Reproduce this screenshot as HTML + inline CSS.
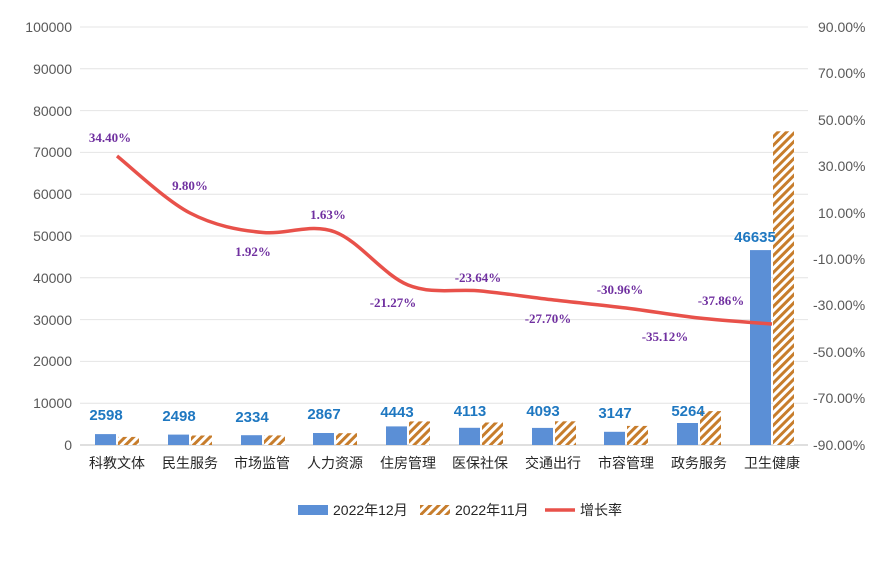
<!DOCTYPE html>
<html><head><meta charset="utf-8"><style>
body{margin:0;background:#fff}
svg{display:block}
text{font-family:"Liberation Sans","Noto Sans CJK SC",sans-serif}
.s text{font-family:"Liberation Serif",serif}
</style></head><body>
<svg width="894" height="570" xmlns="http://www.w3.org/2000/svg">
<defs>
<pattern id="h" patternUnits="userSpaceOnUse" width="6" height="6" patternTransform="rotate(45)">
<rect width="6" height="6" fill="#fff"/><rect width="3" height="6" fill="#c77d2c"/>
</pattern>
</defs>
<g stroke="#e4e4e4" stroke-width="1">
<line x1="80" x2="808" y1="27" y2="27"/><line x1="80" x2="808" y1="68.8" y2="68.8"/><line x1="80" x2="808" y1="110.6" y2="110.6"/><line x1="80" x2="808" y1="152.4" y2="152.4"/><line x1="80" x2="808" y1="194.2" y2="194.2"/><line x1="80" x2="808" y1="236" y2="236"/><line x1="80" x2="808" y1="277.8" y2="277.8"/><line x1="80" x2="808" y1="319.6" y2="319.6"/><line x1="80" x2="808" y1="361.4" y2="361.4"/><line x1="80" x2="808" y1="403.2" y2="403.2"/>
</g>
<line x1="80" x2="808" y1="445" y2="445" stroke="#bfbfbf"/>
<g font-size="14" fill="#595959" text-anchor="end">
<text x="72" y="32">100000</text><text x="72" y="74">90000</text><text x="72" y="116">80000</text><text x="72" y="157">70000</text><text x="72" y="199">60000</text><text x="72" y="241">50000</text><text x="72" y="283">40000</text><text x="72" y="325">30000</text><text x="72" y="366">20000</text><text x="72" y="408">10000</text><text x="72" y="450">0</text>
</g>
<g font-size="14" fill="#595959">
<text x="818" y="32">90.00%</text><text x="818" y="78">70.00%</text><text x="818" y="125">50.00%</text><text x="818" y="171">30.00%</text><text x="818" y="218">10.00%</text><text x="813" y="264">-10.00%</text><text x="813" y="310">-30.00%</text><text x="813" y="357">-50.00%</text><text x="813" y="403">-70.00%</text><text x="813" y="450">-90.00%</text>
</g>
<g fill="#5b8fd6">
<rect x="95" y="434.1" width="21" height="10.9"/><rect x="168" y="434.6" width="21" height="10.4"/><rect x="241" y="435.2" width="21" height="9.8"/><rect x="313" y="433" width="21" height="12"/><rect x="386" y="426.4" width="21" height="18.6"/><rect x="459" y="427.8" width="21" height="17.2"/><rect x="532" y="427.9" width="21" height="17.1"/><rect x="604" y="431.8" width="21" height="13.2"/><rect x="677" y="423" width="21" height="22"/><rect x="750" y="250.1" width="21" height="194.9"/>
</g>
<g fill="url(#h)">
<rect x="118" y="436.9" width="21" height="8.1"/><rect x="191" y="435.5" width="21" height="9.5"/><rect x="264" y="435.4" width="21" height="9.6"/><rect x="336" y="433.2" width="21" height="11.8"/><rect x="409" y="421.4" width="21" height="23.6"/><rect x="482" y="422.5" width="21" height="22.5"/><rect x="555" y="421.3" width="21" height="23.7"/><rect x="627" y="425.9" width="21" height="19.1"/><rect x="700" y="411.1" width="21" height="33.9"/><rect x="773" y="131.3" width="21" height="313.7"/>
</g>
<path d="M117,156 C129,165.5 165.7,200.4 190,213 C214.3,225.6 238.8,230.3 263,232.5 C287.2,234.7 310.8,223 335,232 C359.2,241 383.7,275.2 408,285 C432.3,294.8 456.7,288.5 481,291 C505.3,293.5 529.8,297.2 554,300 C578.2,302.8 601.8,305 626,308 C650.2,311 674.7,315.3 699,318 C723.3,320.7 759.8,323 772,324" fill="none" stroke="#e8514a" stroke-width="3.5"/>
<g font-size="15" font-weight="bold" fill="#1f78c1" text-anchor="middle">
<text x="106" y="420">2598</text><text x="179" y="421">2498</text><text x="252" y="422">2334</text><text x="324" y="419">2867</text><text x="397" y="417">4443</text><text x="470" y="416">4113</text><text x="543" y="416">4093</text><text x="615" y="418">3147</text><text x="688" y="416">5264</text><text x="755" y="242">46635</text>
</g>
<g class="s" font-size="13" font-weight="bold" fill="#7030a0" text-anchor="middle">
<text x="110" y="142">34.40%</text><text x="190" y="190">9.80%</text><text x="253" y="256">1.92%</text><text x="328" y="219">1.63%</text><text x="393" y="307">-21.27%</text><text x="478" y="282">-23.64%</text><text x="548" y="323">-27.70%</text><text x="620" y="294">-30.96%</text><text x="665" y="341">-35.12%</text><text x="721" y="305">-37.86%</text>
</g>
<g font-size="14" fill="#262626" text-anchor="middle">
<text x="117" y="468">科教文体</text><text x="190" y="468">民生服务</text><text x="262" y="468">市场监管</text><text x="335" y="468">人力资源</text><text x="408" y="468">住房管理</text><text x="480" y="468">医保社保</text><text x="553" y="468">交通出行</text><text x="626" y="468">市容管理</text><text x="699" y="468">政务服务</text><text x="772" y="468">卫生健康</text>
</g>
<rect x="298" y="505" width="30" height="10" fill="#5b8fd6"/>
<text x="333" y="515" font-size="14" fill="#262626">2022年12月</text>
<rect x="420" y="505" width="30" height="10" fill="url(#h)"/>
<text x="455" y="515" font-size="14" fill="#262626">2022年11月</text>
<line x1="545" x2="575" y1="510" y2="510" stroke="#e8514a" stroke-width="3.5"/>
<text x="580" y="515" font-size="14" fill="#262626">增长率</text>
</svg>
</body></html>
